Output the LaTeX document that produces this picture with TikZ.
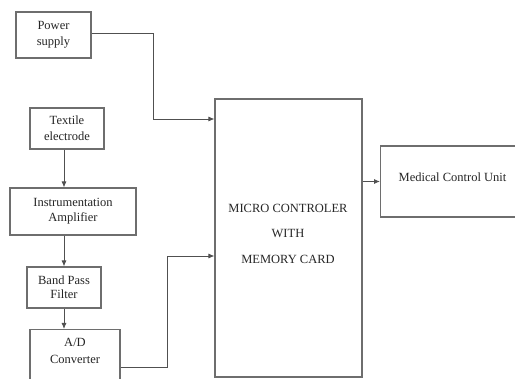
\documentclass[tikz,border=0pt]{standalone}
\usepackage{fontspec}
\setmainfont{Liberation Serif}
\usetikzlibrary{arrows.meta}
\definecolor{linegray}{RGB}{80,80,80}
\definecolor{boxgray}{RGB}{110,110,110}
\tikzset{
  blk/.style={draw=boxgray, line width=1.1pt, inner sep=0pt, align=center,
    font=\fontsize{12.5}{16}\selectfont, text=black!85},
  conn/.style={draw=linegray, line width=0.9pt, -{Latex[length=6pt,width=5pt]}},
  lbl/.style={font=\fontsize{12.5}{25.5}\selectfont, align=center, text=black!85}
}
\begin{document}
\begin{tikzpicture}[x=1pt,y=-1pt]
\useasboundingbox (0,0) rectangle (515,379);
\clip (0,0) rectangle (515,379);
\fill[white] (0,0) rectangle (515,379);
% nodes
\node[blk, minimum width=75, minimum height=46] (ps) at (53.5,35) {Power\\supply};
\node[blk, minimum width=74, minimum height=41] (te) at (67,128.5) {Textile\\electrode};
\node[blk, minimum width=126, minimum height=47, font=\fontsize{12.5}{15}\selectfont] (ia) at (73,211.5) {Instrumentation\\Amplifier};
\node[blk, minimum width=74, minimum height=41, font=\fontsize{12.5}{14}\selectfont] (bp) at (64,287.5) {Band Pass\\Filter};
\node[blk, minimum width=90, minimum height=70, anchor=north] (ad) at (75,329) {};
\node[lbl, font=\fontsize{12.5}{17}\selectfont] (adt) at (75,350.5) {A/D\\Converter};
\node[blk, minimum width=147, minimum height=278] (mc) at (288.5,238) {};
\node[lbl] (mct) at (288,233.5) {MICRO CONTROLER\\WITH\\MEMORY CARD};
\node[blk, minimum width=145, minimum height=71, anchor=west] (mu) at (380,181.5) {};
\node[lbl] (mut) at (452.5,177) {Medical Control Unit};
\coordinate (vx) at (64,0);
% connectors
\draw[conn] (ps.east |- 0,33) -- (153,33) |- (mc.west |- 0,119);
\draw[conn] (te.south -| vx) -- (ia.north -| vx);
\draw[conn] (ia.south -| vx) -- (bp.north -| vx);
\draw[conn] (bp.south -| vx) -- (ad.north -| vx);
\draw[conn] (ad.east |- 0,367) -- (167,367) |- (mc.west |- 0,256);
\draw[conn] (mc.east |- mu.west) -- (mu.west);
\end{tikzpicture}
\end{document}
